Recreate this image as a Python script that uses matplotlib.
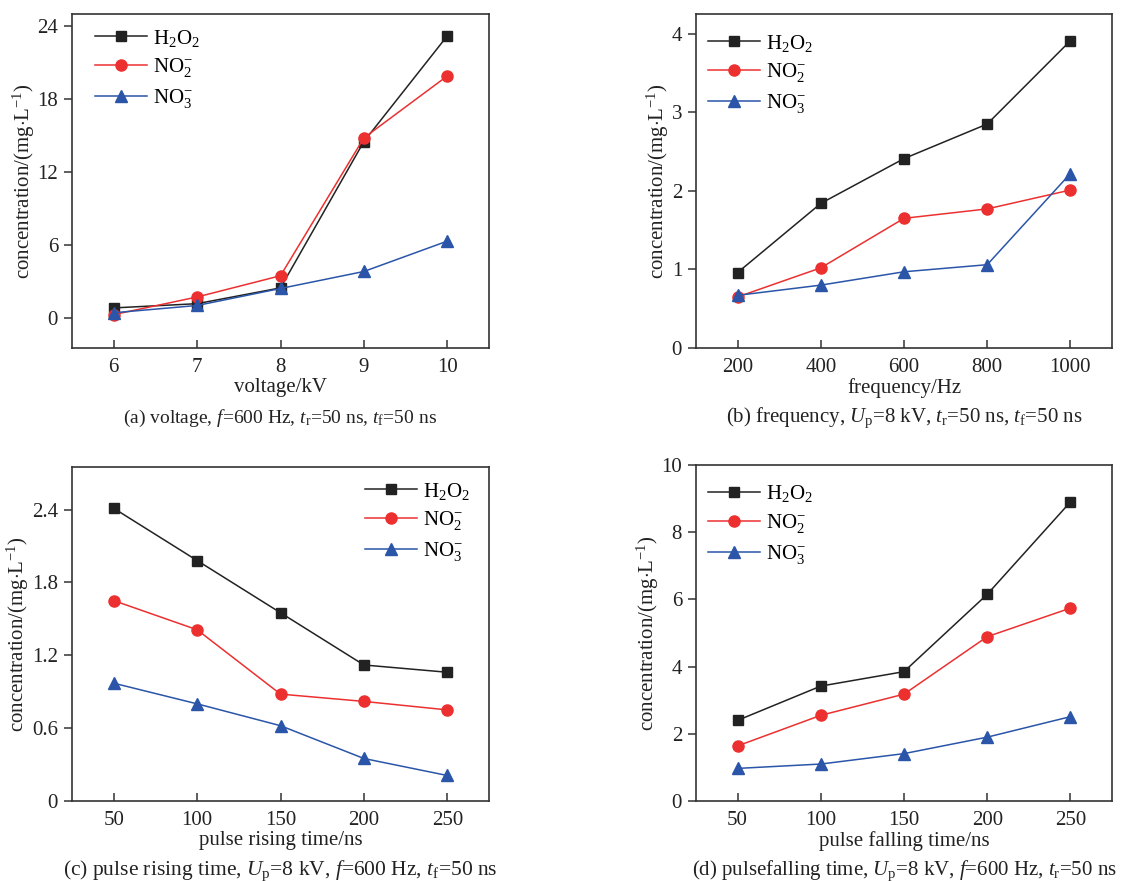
import matplotlib
matplotlib.use('Agg')
import matplotlib.pyplot as plt

plt.rcParams['font.family'] = ['Liberation Serif', 'DejaVu Serif']
plt.rcParams['mathtext.fontset'] = 'custom'
plt.rcParams['mathtext.rm'] = 'Liberation Serif'
plt.rcParams['mathtext.it'] = 'Liberation Serif:italic'
plt.rcParams['mathtext.bf'] = 'Liberation Serif:bold'

# (a) voltage
volt = [6, 7, 8, 9, 10]
volt_h2o2 = [0.8, 1.15, 2.45, 14.5, 23.2]
volt_no2 = [0.25, 1.7, 3.45, 14.8, 19.9]
volt_no3 = [0.4, 1.0, 2.4, 3.8, 6.3]

# (b) frequency
freq = [200, 400, 600, 800, 1000]
freq_h2o2 = [0.96, 1.84, 2.41, 2.85, 3.91]
freq_no2 = [0.65, 1.02, 1.65, 1.77, 2.01]
freq_no3 = [0.67, 0.80, 0.97, 1.06, 2.22]

# (c) rising time
rise = [50, 100, 150, 200, 250]
rise_h2o2 = [2.41, 1.98, 1.55, 1.12, 1.06]
rise_no2 = [1.65, 1.41, 0.88, 0.82, 0.75]
rise_no3 = [0.97, 0.80, 0.62, 0.35, 0.21]

# (d) falling time
fall = [50, 100, 150, 200, 250]
fall_h2o2 = [2.40, 3.42, 3.85, 6.15, 8.90]
fall_no2 = [1.64, 2.55, 3.18, 4.89, 5.74]
fall_no3 = [0.97, 1.10, 1.41, 1.90, 2.51]

labels = [r'H$_2$O$_2$', r'NO$_2^{-}$', r'NO$_3^{-}$']
colors = ['#222222', '#ec3030', '#2a55a8']
markers = ['s', 'o', '^']
msizes = [7, 8, 8.5]

W, H = 1121, 881
fig = plt.figure(figsize=(W / 100, H / 100), dpi=100)

def box(l, t, r, b):
    return [l / W, (H - b) / H, (r - l) / W, (b - t) / H]

panels = [
    dict(rect=box(72, 14, 489, 348), x=volt, ys=[volt_h2o2, volt_no2, volt_no3],
         xlim=(5.5, 10.5), ylim=(-2.5, 25), yticks=[0, 6, 12, 18, 24], ytl=None,
         xlabel='voltage/kV', loc='upper left', anchor=(0.035, 0.984), capsize=14,
         cap=r'(a) voltage, $f$=600 Hz, $t_\mathrm{r}$=50 ns, $t_\mathrm{f}$=50 ns'),
    dict(rect=box(696, 14, 1112, 348), x=freq, ys=[freq_h2o2, freq_no2, freq_no3],
         xlim=(100, 1100), ylim=(0, 4.25), yticks=[0, 1, 2, 3, 4], ytl=None,
         xlabel='frequency/Hz', loc='upper left', anchor=(0.009, 0.969), capsize=15,
         cap=r'(b) frequency, $U_\mathrm{p}$=8 kV, $t_\mathrm{r}$=50 ns, $t_\mathrm{f}$=50 ns'),
    dict(rect=box(72, 467, 489, 801), x=rise, ys=[rise_h2o2, rise_no2, rise_no3],
         xlim=(25, 275), ylim=(0, 2.75), yticks=[0, 0.6, 1.2, 1.8, 2.4],
         ytl=['0', '0.6', '1.2', '1.8', '2.4'],
         xlabel='pulse rising time/ns', loc='upper right', anchor=(0.975, 0.984), capsize=15.5,
         cap=r'(c) pulse rising time, $U_\mathrm{p}$=8 kV, $f$=600 Hz, $t_\mathrm{f}$=50 ns'),
    dict(rect=box(696, 465, 1112, 801), x=fall, ys=[fall_h2o2, fall_no2, fall_no3],
         xlim=(25, 275), ylim=(0, 10), yticks=[0, 2, 4, 6, 8, 10], ytl=None,
         xlabel='pulse falling time/ns', loc='upper left', anchor=(0.009, 0.970), capsize=15,
         cap=r'(d) pulsefalling time, $U_\mathrm{p}$=8 kV, $f$=600 Hz, $t_\mathrm{r}$=50 ns'),
]

for p in panels:
    ax = fig.add_axes(p['rect'])
    for y, lab, c, m, ms in zip(p['ys'], labels, colors, markers, msizes):
        ax.plot(p['x'], y, color=c, marker=m, markersize=ms, linewidth=1.1,
                label=lab, clip_on=False)
    ax.set_xlim(*p['xlim'])
    ax.set_ylim(*p['ylim'])
    ax.set_xticks(p['x'])
    ax.set_yticks(p['yticks'])
    if p['ytl']:
        ax.set_yticklabels(p['ytl'])
    for s in ax.spines.values():
        s.set_color('#333333')
        s.set_linewidth(1.2)
    ax.tick_params(axis='x', direction='in', length=6, width=1.1, labelsize=15, pad=7, colors='#333333', labelcolor='#222222')
    ax.tick_params(axis='y', direction='out', length=6, width=1.1, labelsize=15, pad=4, colors='#333333', labelcolor='#222222')
    ax.set_xlabel(p['xlabel'], fontsize=15, labelpad=1, color='#222222')
    ax.set_ylabel(r'concentration/(mg$\cdot$L$^{-1}$)', fontsize=15, labelpad=0.5, color='#222222')
    ax.legend(loc=p['loc'], bbox_to_anchor=p['anchor'], frameon=False, fontsize=15,
              handlelength=2.5, labelspacing=0.37, handletextpad=0.3, borderaxespad=0)
    r = p['rect']
    fig.text(r[0] + r[2] / 2, r[1] - 70 / H, p['cap'], ha='center', va='center',
             fontsize=p['capsize'], color='#222222')

fig.savefig('out.png', dpi=100)
